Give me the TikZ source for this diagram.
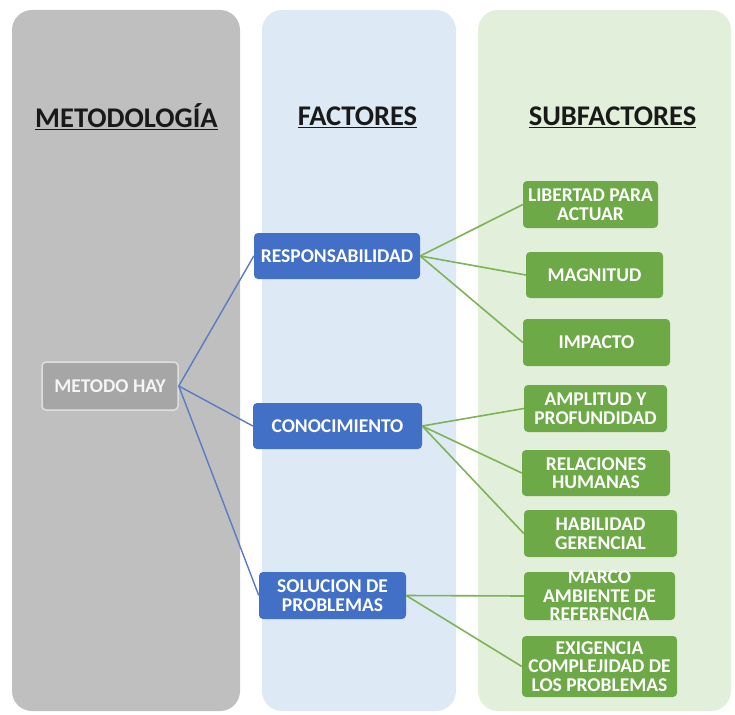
\documentclass[tikz,border=0pt]{standalone}
\usepackage{fontspec}
\setmainfont{Carlito}
\definecolor{grayCol}{HTML}{BFBFBF}
\definecolor{blueCol}{HTML}{DDEAF6}
\definecolor{greenCol}{HTML}{E2EFDA}
\definecolor{blueBox}{HTML}{4270C6}
\definecolor{greenBox}{HTML}{6DAA47}
\definecolor{grayBox}{HTML}{A6A6A6}
\definecolor{blueLine}{HTML}{5A7BC2}
\definecolor{greenLine}{HTML}{7DB356}
\begin{document}
\begin{tikzpicture}[x=1pt,y=-1pt,
  column/.style={rounded corners=20pt},
  heading/.style={font=\fontsize{28.5}{32}\selectfont\bfseries, text=black!90, inner sep=0pt},
  boxtext/.style={font=\fontsize{19.5}{18.5}\selectfont\bfseries, text=white, align=center, inner sep=0pt},
  mbox/.style={draw=gray!25, line width=1.5pt, fill=grayBox, rounded corners=4pt, inner sep=0pt,
     font=\fontsize{19.5}{18.5}\selectfont\bfseries, text=white!92!gray},
  fbox/.style={fill=blueBox, rounded corners=4pt, inner sep=0pt, boxtext},
  sbox/.style={fill=greenBox, rounded corners=4pt, inner sep=0pt},
  bline/.style={draw=blueLine, line width=1.4pt},
  gline/.style={draw=greenLine, line width=1.6pt}
]
\useasboundingbox (0,0) rectangle (735,714);
% columns
\fill[grayCol, column] (12,10) rectangle (240,711);
\fill[blueCol, column] (262,10) rectangle (456,711);
\fill[greenCol, column] (478,10) rectangle (731,711);
% headings
\node[heading] (h1) at (126.5,117) {\underline{METODOLOGÍA}};
\node[heading] (h2) at (357.5,117) {\underline{FACTORES}};
\node[heading] (h3) at (612.5,117) {\underline{SUBFACTORES}};
% root
\node[mbox, minimum width=136pt, minimum height=48pt] (m) at (110,386) {METODO HAY};
% factors
\node[fbox, minimum width=166pt, minimum height=46pt] (f1) at (337,256) {RESPONSABILIDAD};
\node[fbox, minimum width=169pt, minimum height=46pt] (f2) at (337.5,426) {CONOCIMIENTO};
\node[fbox, minimum width=147pt, minimum height=47pt] (f3) at (332.5,595.5) {SOLUCION DE\\PROBLEMAS};
% subfactors
\node[sbox, minimum width=135pt, minimum height=47pt, label={[boxtext]center:{LIBERTAD PARA\\ACTUAR}}] (s1) at (590.5,204.5) {};
\node[sbox, minimum width=137pt, minimum height=46pt, label={[boxtext]center:{MAGNITUD}}] (s2) at (594.5,275) {};
\node[sbox, minimum width=147pt, minimum height=47pt, label={[boxtext]center:{IMPACTO}}] (s3) at (596.5,342.5) {};
\node[sbox, minimum width=143pt, minimum height=47pt, label={[boxtext]center:{AMPLITUD Y\\PROFUNDIDAD}}] (s4) at (595.5,408.5) {};
\node[sbox, minimum width=148pt, minimum height=46pt, label={[boxtext]center:{RELACIONES\\HUMANAS}}] (s5) at (596,473) {};
\node[sbox, minimum width=153pt, minimum height=47pt, label={[boxtext]center:{HABILIDAD\\GERENCIAL}}] (s6) at (600.5,533.5) {};
\node[sbox, minimum width=151pt, minimum height=48pt, label={[boxtext]center:{MARCO\\AMBIENTE DE\\REFERENCIA}}] (s7) at (599.5,596) {};
\node[sbox, minimum width=155pt, minimum height=61pt, label={[boxtext]center:{EXIGENCIA\\COMPLEJIDAD DE\\LOS PROBLEMAS}}] (s8) at (599.5,666.5) {};
% connectors
\draw[bline] (m.east) -- (f1.west);
\draw[bline] (m.east) -- (f2.west);
\draw[bline] (m.east) -- (f3.west);
\draw[gline] (f1.east) -- (s1.west);
\draw[gline] (f1.east) -- (s2.west);
\draw[gline] (f1.east) -- (s3.west);
\draw[gline] (f2.east) -- (s4.west);
\draw[gline] (f2.east) -- (s5.west);
\draw[gline] (f2.east) -- (s6.west);
\draw[gline] (f3.east) -- (s7.west);
\draw[gline] (f3.east) -- (s8.west);
\end{tikzpicture}
\end{document}
